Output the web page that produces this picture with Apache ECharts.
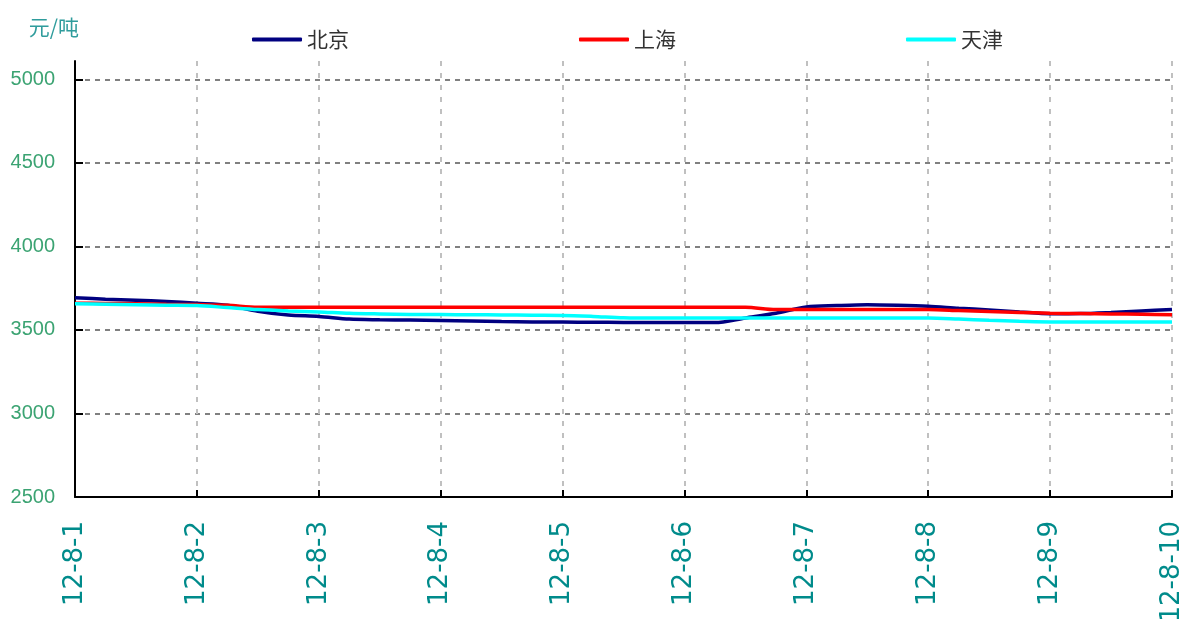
<!DOCTYPE html>
<html>
<head>
<meta charset="utf-8">
<script src="https://cdn.jsdelivr.net/npm/echarts@6/dist/echarts.min.js"></script>
<style>
  html, body { margin: 0; padding: 0; background: #fff; }
  #chart { width: 1184px; height: 619px; }
</style>
</head>
<body>
<div id="chart"></div>
<script>
// x positions in days after 12-8-1 (quarter-day steps)
const days = [0, 0.25, 0.5, 0.75, 1, 1.25, 1.5, 1.75, 2, 2.25, 2.5, 2.75, 3, 3.25, 3.5, 3.75,
  4, 4.25, 4.5, 4.75, 5, 5.25, 5.5, 5.75, 6, 6.25, 6.5, 6.75, 7, 7.25, 7.5, 7.75, 8, 8.25, 8.5, 8.75, 9]

const dateLabels = ['12-8-1', '12-8-2', '12-8-3', '12-8-4', '12-8-5', '12-8-6', '12-8-7', '12-8-8', '12-8-9', '12-8-10']
const yTicks = [2500, 3000, 3500, 4000, 4500, 5000]

const beijing = [3693, 3684, 3678, 3670, 3660, 3648, 3612, 3589, 3581, 3565, 3561, 3559, 3556, 3553, 3550, 3548,
  3547, 3546, 3545, 3545, 3545, 3544, 3572, 3600, 3638, 3646, 3651, 3648, 3642, 3630, 3620, 3608, 3597, 3598, 3605, 3614, 3623]
const shanghai = [3660, 3659, 3657, 3654, 3652, 3648, 3636, 3636, 3636, 3636, 3636, 3636, 3636, 3636, 3636, 3636,
  3636, 3636, 3636, 3636, 3636, 3636, 3636, 3622, 3622, 3622, 3622, 3622, 3622, 3616, 3610, 3605, 3600, 3598, 3596, 3594, 3591]
const tianjin = [3657, 3654, 3651, 3648, 3646, 3634, 3622, 3614, 3608, 3600, 3596, 3593, 3592, 3591, 3590, 3588,
  3587, 3581, 3573, 3571, 3571, 3571, 3571, 3571, 3571, 3571, 3571, 3571, 3571, 3565, 3558, 3552, 3548, 3547, 3547, 3547, 3547]

const pairs = vals => vals.map((v, i) => [days[i], v])

const chart = echarts.init(document.getElementById('chart'))

const option = {
  backgroundColor: '#fff',
  animation: false,
  textStyle: { fontFamily: 'Liberation Sans, Arial, sans-serif' },
  legend: {
    left: 247,
    top: 24,
    icon: 'roundRect',
    itemWidth: 50,
    itemHeight: 4,
    itemGap: 230,
    textStyle: { fontSize: 21, color: '#333', fontFamily: 'Noto Sans CJK SC' },
    data: ['北京', '上海', '天津']
  },
  grid: {
    left: 75,
    right: 12,
    top: 61,
    bottom: 122,
    outerBoundsMode: 'none'
  },
  xAxis: {
    type: 'value',
    min: 0,
    max: 9,
    interval: 1,
    axisLine: { lineStyle: { color: '#000', width: 2 } },
    axisTick: { inside: true, length: 7, lineStyle: { color: '#000', width: 2 } },
    axisLabel: {
      rotate: 90,
      margin: 24,
      fontSize: 26,
      fontFamily: 'DejaVu Sans',
      color: '#008b8b',
      formatter: v => dateLabels[v] || ''
    },
    splitLine: { show: true, lineStyle: { color: '#c0c0c0', width: 2, type: [5, 7] } }
  },
  yAxis: {
    type: 'value',
    min: 2500,
    max: 5110,
    interval: 500,
    name: '元/吨',
    nameLocation: 'end',
    nameGap: 23,
    nameTextStyle: { fontSize: 21, color: '#2f9c9c', align: 'right', padding: [0, -4, 0, 0], fontFamily: 'Noto Sans CJK SC' },
    axisLine: { show: true, lineStyle: { color: '#000', width: 2 } },
    axisTick: { show: true, inside: true, length: 8, customValues: yTicks, lineStyle: { color: '#000', width: 2 } },
    axisLabel: { margin: 20, fontSize: 20, color: '#3ba372', customValues: yTicks, formatter: v => String(v) },
    splitLine: { show: true, lineStyle: { color: '#808080', width: 2, type: [5, 5] } }
  },
  series: [
    { name: '北京', type: 'line', data: pairs(beijing), symbol: 'none', smooth: 0.3, lineStyle: { width: 3.5, color: '#000080' }, itemStyle: { color: '#000080' } },
    { name: '上海', type: 'line', data: pairs(shanghai), symbol: 'none', smooth: 0.3, lineStyle: { width: 3.5, color: '#ff0000' }, itemStyle: { color: '#ff0000' } },
    { name: '天津', type: 'line', data: pairs(tianjin), symbol: 'none', smooth: 0.3, lineStyle: { width: 3.5, color: '#00ffff' }, itemStyle: { color: '#00ffff' } }
  ]
}

chart.setOption(option)
</script>
</body>
</html>
